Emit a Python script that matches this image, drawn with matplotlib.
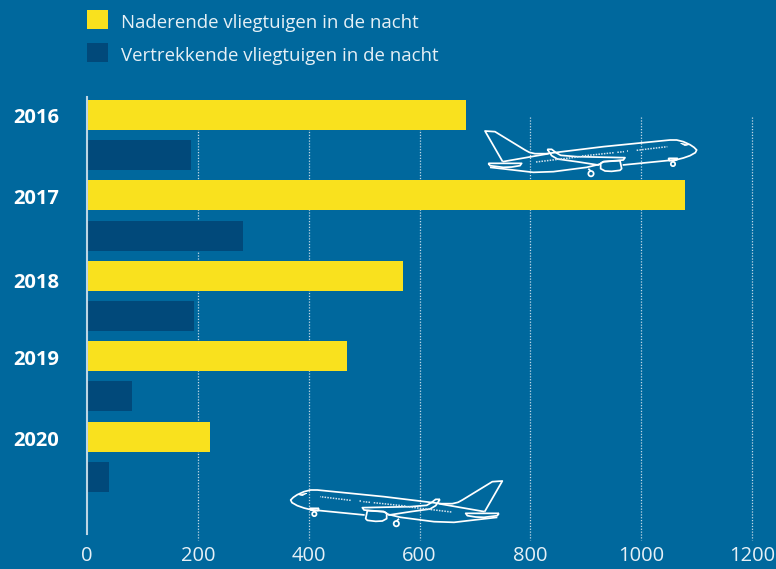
import matplotlib
matplotlib.use("Agg")
import matplotlib.pyplot as plt
from matplotlib.path import Path
from matplotlib.patches import PathPatch, Circle
from matplotlib.transforms import Affine2D

years = ["2016", "2017", "2018", "2019", "2020"]
arriving = [684, 1079, 570, 469, 222]
departing = [188, 282, 193, 81, 40]
xticks = [0, 200, 400, 600, 800, 1000, 1200]
series_names = ["Naderende vliegtuigen in de nacht", "Vertrekkende vliegtuigen in de nacht"]

BG = "#00689D"
YEL = "#F9E11E"
DARK = "#01497A"
W, H = 776, 569
FONT = ["Open Sans", "DejaVu Sans"]

plt.rcParams["font.family"] = FONT
fig = plt.figure(figsize=(W / 100, H / 100), dpi=100, facecolor=BG)
L, R, T, B = 87, 752, 97, 540
ax = fig.add_axes([L / W, 1 - B / H, (R - L) / W, (B - T) / H], facecolor=BG)

ROW = 80.4


def y_of(px):
    return -0.25 + (px - 115) / ROW


ax.set_xlim(0, 1200)
ax.set_ylim(y_of(B), y_of(T))
pos = range(len(years))
h = 30 / ROW
b1 = ax.barh([p - 0.25 for p in pos], arriving, height=h, color=YEL, zorder=3, label=series_names[0])
b2 = ax.barh([p + 0.25 for p in pos], departing, height=h, color=DARK, zorder=3, label=series_names[1])

for s in ("top", "right", "bottom"):
    ax.spines[s].set_visible(False)
ax.spines["left"].set_color("#BCD5E4")
ax.spines["left"].set_linewidth(1.5)
ax.spines["left"].set_bounds(y_of(T), y_of(534))
ax.spines["left"].set_zorder(4)

ax.set_xticks(xticks)
ax.tick_params(axis="x", length=0, pad=4, labelsize=14.5, labelcolor="#E6F0F6")
ax.set_yticks([])
for x in xticks[1:]:
    ax.plot([x, x], [y_of(117), y_of(B)], color="#C3D8E6", lw=0.9, ls=(0, (1, 1.3)),
            zorder=1, clip_on=False)

year_y = [118, 199, 283, 360, 441]
for y_px, lab in zip(year_y, years):
    fig.text(36 / W, 1 - y_px / H, lab, ha="center", va="center", color="white",
             fontsize=14.5, fontweight="bold")

leg = fig.legend(handles=[b1, b2], labels=series_names, loc="upper left",
                 bbox_to_anchor=(87 / W, 1 - 10.5 / H), frameon=False, fontsize=13.4,
                 labelcolor="#E6F0F6", handlelength=1.13, handleheight=1.13,
                 handletextpad=0.72, labelspacing=0.72, borderpad=0, borderaxespad=0)
for txt in leg.get_texts():
    txt.set_y(-2)

# Decorative aeroplane outline, in the zoomed drawing's own units (3 units = 1 px)
outline = [
    [(98, 155), (45, 63), (75, 65), (165, 120), (178, 127), (195, 131), (228, 131), (400, 110),
     (600, 90), (620, 90), (640, 95), (660, 104), (672, 112), (680, 120), (676, 128), (660, 137),
     (640, 144), (620, 149), (458, 165)],
    [(60, 172), (130, 180), (190, 187), (250, 185), (350, 172), (388, 163)],
    [(98, 155), (236, 131)],
    [(55, 160), (155, 160), (150, 167), (125, 171), (100, 172), (60, 167), (55, 160)],
    [(232, 118), (245, 118), (258, 128), (272, 136), (320, 140), (465, 143), (460, 150), (400, 155),
     (385, 165), (320, 155), (262, 147), (245, 137), (232, 118)],
    [(400, 155), (450, 152), (455, 176), (450, 181), (425, 184), (405, 183), (392, 176),
     (392, 160), (400, 155)],
    [(595, 145), (622, 145), (620, 150), (610, 152), (598, 152), (595, 145)],
    [(610, 152), (609, 156)],
    [(355, 176), (362, 183)],
]
windows = [
    [(198, 156), (332, 140)],
    [(336, 138), (432, 128)],
    [(442, 127), (462, 125)],
    [(470, 124), (474, 124)],
    [(500, 121), (592, 110)],
]
cockpit = [(632, 100), (657, 104), (645, 107), (632, 100)]
wheels = [(363, 191, 8), (609, 162, 6.5)]


def plane(tf):
    for seg in outline:
        fig.add_artist(PathPatch(Path(seg), fill=False, ec="white", lw=1.25, transform=tf,
                                 zorder=5, joinstyle="round"))
    for seg in windows:
        fig.add_artist(PathPatch(Path(seg), fill=False, ec="#D5E4EE", lw=1.1, ls=(0, (1, 0.8)),
                                 transform=tf, zorder=5))
    fig.add_artist(PathPatch(Path(cockpit), fc="white", ec="white", lw=0.5, transform=tf, zorder=5))
    for cx, cy, r in wheels:
        fig.add_artist(Circle((cx, cy), r, fill=False, ec="white", lw=1.25, transform=tf, zorder=5))


# zoom units -> display pixels (y flipped)
plane(Affine2D().scale(1 / 3, -1 / 3).translate(470, H - 110))
plane(Affine2D().scale(-1 / 3, -1 / 3).translate(280 + 712 / 3, H - 470 + 30 / 3))

fig.savefig("out.png", dpi=100, facecolor=BG)
